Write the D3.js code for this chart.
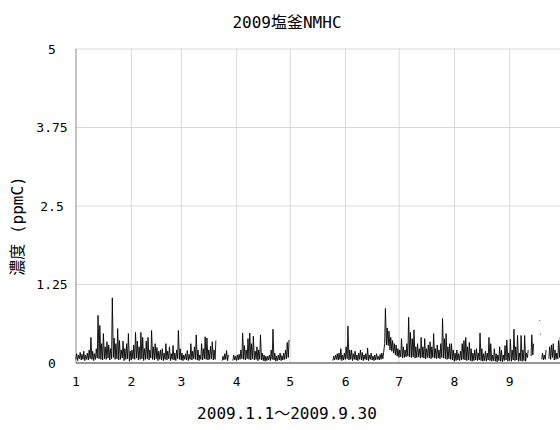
<!DOCTYPE html>
<html>
<head>
<meta charset="utf-8">
<script src="https://cdn.jsdelivr.net/npm/d3@7"></script>
<style>
  body { margin: 0; background: #fff; }
  text { font-family: "DejaVu Sans Mono", "Noto Sans CJK JP", monospace; fill: #000; }
</style>
</head>
<body>
<svg width="560" height="430"></svg>
<script>
// daily peak / daily low readings (ppmC), null = no data
const peakJan = [0.14,0.12,0.16,0.13,0.18,0.12,0.15,0.20,0.40,0.18,0.14,0.22,0.75,0.59,0.30,0.46,0.25,0.33,0.28,0.22,1.03,0.39,0.30,0.54,0.35,0.20,0.34,0.22,0.30,0.46,0.18];
const lowJan  = [0.05,0.03,0.06,0.04,0.05,0.03,0.05,0.04,0.06,0.05,0.03,0.05,0.07,0.06,0.05,0.04,0.06,0.05,0.07,0.04,0.06,0.08,0.05,0.06,0.04,0.05,0.07,0.03,0.05,0.06,0.02];
const peakFeb = [0.20,0.28,0.48,0.34,0.25,0.48,0.40,0.22,0.34,0.40,0.20,0.51,0.25,0.30,0.24,0.18,0.20,0.22,0.15,0.30,0.18,0.25,0.14,0.27,0.15,0.20,0.51,0.22];
const lowFeb  = [0.04,0.06,0.05,0.07,0.04,0.05,0.06,0.03,0.05,0.06,0.04,0.07,0.05,0.04,0.06,0.03,0.05,0.04,0.03,0.05,0.04,0.06,0.03,0.05,0.04,0.03,0.06,0.05];
const peakMar = [0.15,0.12,0.14,0.19,0.13,0.30,0.18,0.25,0.44,0.20,0.12,0.30,0.22,0.41,0.39,0.20,0.26,0.33,0.20,0.35,null,null,null,0.10,0.14,0.19,0.12,null,null,0.12,0.10];
const lowMar  = [0.04,0.03,0.05,0.04,0.03,0.05,0.04,0.06,0.05,0.04,0.03,0.05,0.04,0.06,0.05,0.04,0.05,0.06,0.04,0.05,null,null,null,0.03,0.04,0.05,0.03,null,null,0.03,0.04];
const peakApr = [0.12,0.13,0.20,0.47,0.27,0.20,0.38,0.47,0.30,0.42,0.18,0.25,0.20,0.44,0.15,0.12,0.10,0.10,0.12,0.20,0.53,0.15,0.10,0.12,0.15,0.11,0.15,0.20,0.32,0.36];
const lowApr  = [0.03,0.04,0.05,0.06,0.05,0.04,0.06,0.05,0.04,0.06,0.04,0.05,0.03,0.05,0.04,0.03,0.02,0.03,0.04,0.03,0.05,0.04,0.02,0.03,0.04,0.03,0.04,0.05,0.06,0.08];
const peakMay = [null,null,null,null,null,null,null,null,null,null,null,null,null,null,null,null,null,null,null,null,null,null,null,null,0.10,0.12,0.14,0.15,0.22,0.12,0.15];
const lowMay  = [null,null,null,null,null,null,null,null,null,null,null,null,null,null,null,null,null,null,null,null,null,null,null,null,0.03,0.04,0.05,0.04,0.05,0.03,0.04];
const peakJun = [0.25,0.58,0.20,0.20,0.14,0.18,0.12,0.15,0.20,0.16,0.12,0.14,0.23,0.12,0.15,0.10,0.12,0.14,0.10,0.13,0.15,0.16,0.86,0.55,0.50,0.40,0.35,0.30,0.28,0.22];
const lowJun  = [0.05,0.06,0.04,0.05,0.03,0.05,0.04,0.03,0.05,0.04,0.03,0.05,0.04,0.03,0.05,0.04,0.03,0.04,0.05,0.04,0.05,0.06,0.30,0.28,0.27,0.20,0.18,0.15,0.12,0.10];
const peakJul = [0.20,0.38,0.25,0.20,0.30,0.72,0.48,0.38,0.52,0.25,0.30,0.22,0.40,0.25,0.38,0.22,0.28,0.33,0.25,0.46,0.22,0.28,0.20,0.30,0.70,0.38,0.46,0.25,0.30,0.30,0.20];
const lowJul  = [0.08,0.09,0.07,0.08,0.09,0.10,0.09,0.08,0.09,0.07,0.08,0.09,0.07,0.08,0.07,0.06,0.08,0.07,0.06,0.08,0.07,0.06,0.07,0.06,0.08,0.07,0.06,0.05,0.06,0.05,0.04];
const peakAug = [0.15,0.20,0.14,0.18,0.30,0.35,0.40,0.25,0.32,0.22,0.15,0.20,0.22,0.15,0.47,0.22,0.14,0.18,0.15,0.40,0.30,0.12,0.22,0.14,0.12,0.25,0.20,0.12,0.27,0.36,0.15];
const lowAug  = [0.02,0.03,0.04,0.03,0.04,0.05,0.04,0.03,0.04,0.03,0.02,0.03,0.04,0.03,0.04,0.03,0.02,0.03,0.02,0.04,0.03,0.02,0.03,0.02,0.01,0.03,0.02,0.01,0.03,0.04,0.02];
const peakSep = [0.37,0.20,0.53,0.25,0.43,0.15,0.43,0.20,0.43,0.15,0.20,null,0.44,0.30,null,null,null,null,0.15,0.12,0.20,null,0.25,0.28,0.30,0.20,0.15,0.35,0.40,0.20];
const lowSep  = [0.03,0.02,0.04,0.03,0.04,0.02,0.03,0.02,0.03,0.02,0.08,null,0.10,0.12,null,null,null,null,0.05,0.04,0.05,null,0.06,0.05,0.08,0.04,0.05,0.06,0.08,0.05];
// single stray readings [day index, value]
const strayPoints = [[260.1, 0.67], [260.6, 0.45]];

const yTicks = [0, 1.25, 2.5, 3.75, 5];
const yTickLabels = ["0", "1.25", "2.5", "3.75", "5"];
const monthLabels = ["1", "2", "3", "4", "5", "6", "7", "8", "9"];

const dailyPeak = [].concat(peakJan, peakFeb, peakMar, peakApr, peakMay, peakJun, peakJul, peakAug, peakSep);
const dailyLow = [].concat(lowJan, lowFeb, lowMar, lowApr, lowMay, lowJun, lowJul, lowAug, lowSep);

const start = new Date(2009, 0, 1);
const end = new Date(2009, 9, 1);

const svg = d3.select("svg");

const x = d3.scaleTime()
    .domain([start, end])
    .range([75.5, 562.8]);

const y = d3.scaleLinear()
    .domain([0, 5])
    .range([362.5, 48.5]);

// trace: low then peak for each day
const series = [];
dailyPeak.forEach((p, i) => {
    const day = d3.timeDay.offset(start, i);
    if (p == null) { series.push(null); return; }
    series.push({ t: d3.timeHour.offset(day, 5), v: dailyLow[i] });
    series.push({ t: d3.timeHour.offset(day, 15), v: p });
});

const months = d3.timeMonth.range(start, end);

// horizontal grid
svg.append("g")
    .attr("transform", "translate(75.5,0)")
    .call(d3.axisLeft(y).tickValues(yTicks.slice(1)).tickSize(-(562.8 - 75.5)).tickFormat(""))
    .call(g => g.select(".domain").remove())
    .call(g => g.selectAll("line").attr("stroke", "#d9d9d9"));

// vertical grid
svg.append("g")
    .attr("transform", "translate(0,362.5)")
    .call(d3.axisBottom(x).tickValues(months.slice(1)).tickSize(-(362.5 - 48.5)).tickFormat(""))
    .call(g => g.select(".domain").remove())
    .call(g => g.selectAll("line").attr("stroke", "#d9d9d9"));

// left axis line + labels
svg.append("g")
    .attr("transform", "translate(75.5,0)")
    .call(d3.axisLeft(y).tickValues(yTicks).tickSize(0).tickFormat((d, i) => yTickLabels[i]))
    .call(g => g.select(".domain").attr("stroke", "#8c8c8c"))
    .call(g => g.selectAll("text")
        .attr("x", -23.5)
        .attr("dy", "0.35em")
        .attr("text-anchor", "middle")
        .style("font-size", "13px"));

// bottom axis
svg.append("g")
    .attr("transform", "translate(0,362.5)")
    .call(d3.axisBottom(x).tickValues(months).tickSize(0).tickFormat((d, i) => monthLabels[i]))
    .call(g => g.select(".domain").attr("stroke", "#333"))
    .call(g => g.selectAll("text")
        .attr("y", 14)
        .style("font-size", "13px"));

svg.selectAll("g.tick text").attr("font-family", null).attr("font-size", null);

// data trace
svg.append("path")
    .datum(series)
    .attr("fill", "none")
    .attr("stroke", "#000")
    .attr("stroke-width", 0.9)
    .attr("d", d3.line()
        .defined(d => d != null)
        .x(d => x(d.t))
        .y(d => y(d.v)));

svg.append("g")
    .selectAll("rect")
    .data(strayPoints)
    .join("rect")
    .attr("x", d => x(d3.timeHour.offset(start, d[0] * 24)) - 0.5)
    .attr("y", d => y(d[1]) - 0.5)
    .attr("width", 1)
    .attr("height", 1)
    .attr("fill", "#555");

// titles
svg.append("text")
    .attr("x", 287)
    .attr("y", 28)
    .attr("text-anchor", "middle")
    .style("font-size", "16px")
    .text("2009塩釜NMHC");

svg.append("text")
    .attr("x", 287)
    .attr("y", 419)
    .attr("text-anchor", "middle")
    .style("font-size", "16px")
    .text("2009.1.1～2009.9.30");

svg.append("text")
    .attr("transform", "translate(23,226) rotate(-90)")
    .attr("text-anchor", "middle")
    .style("font-size", "16px")
    .text("濃度 (ppmC)");
</script>
</body>
</html>
